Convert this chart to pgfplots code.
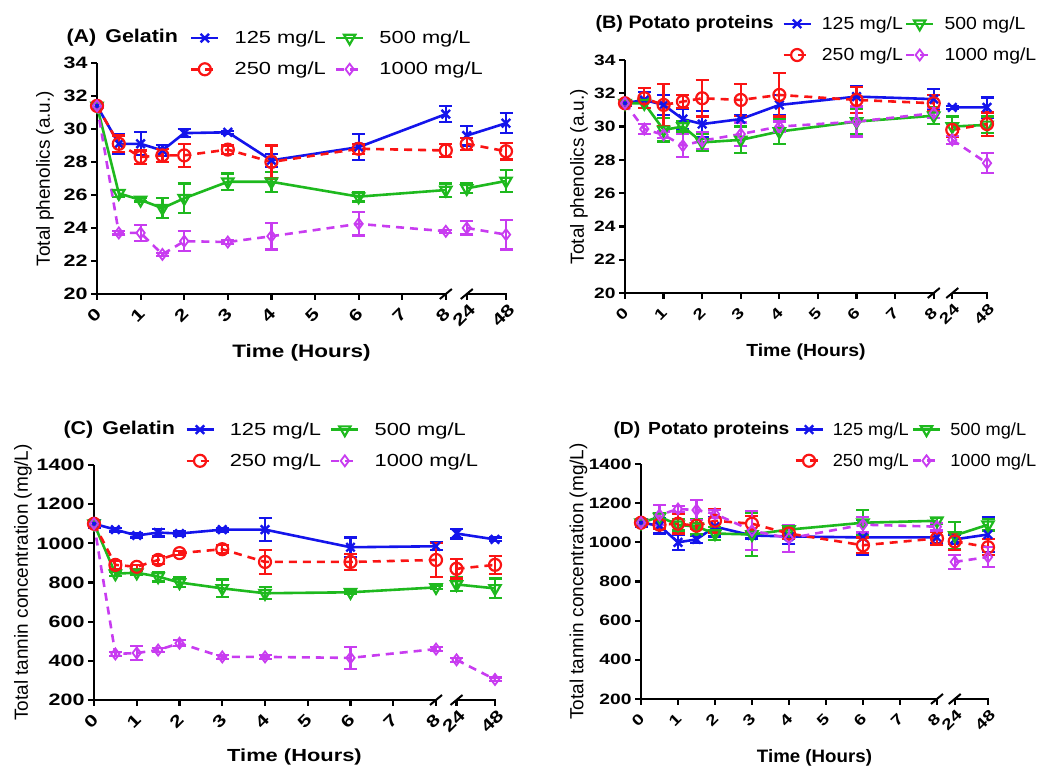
\documentclass[border=0pt]{standalone}
\usepackage{pgfplots}
\pgfplotsset{compat=1.18}
\usepackage{pgfplotstable}
\usepackage{fontspec}
\setmainfont{Liberation Sans}
\newfontfamily\wideL{Liberation Sans}[FakeStretch=1.25]
\newfontfamily\wideB{Liberation Sans}[FakeStretch=1.11]
\newfontfamily\wideD{Liberation Sans}[FakeStretch=1.04]
\newfontfamily\titL{Liberation Sans}[FakeStretch=1.16]
\newfontfamily\titR{Liberation Sans}[FakeStretch=1.1]
\newfontfamily\tickL{Liberation Sans}[FakeStretch=1.3]
\newfontfamily\tickR{Liberation Sans}[FakeStretch=1.28]
\definecolor{cB}{RGB}{20,20,235}
\definecolor{cR}{RGB}{250,20,20}
\definecolor{cG}{RGB}{30,185,30}
\definecolor{cP}{RGB}{200,60,240}

% x positions: 0..8 as hours, 8.48 = 24 h, 9.38 = 48 h (broken axis)
\pgfplotstableread{
x b be g ge r re p pe
0 31.4 0.15 31.4 0.1 31.4 0.1 31.4 0.1
0.5 29.1 0.6 26.1 0.2 29.1 0.5 23.7 0.1
1 29.1 0.7 25.7 0.1 28.3 0.4 23.7 0.5
1.5 28.7 0.35 25.2 0.6 28.4 0.4 22.4 0.1
2 29.75 0.25 25.8 0.9 28.4 0.7 23.2 0.6
3 29.8 0.1 26.8 0.5 28.75 0.25 23.15 0.1
4 28.1 0.4 26.8 0.6 28.0 1.0 23.5 0.8
6 28.9 0.8 25.9 0.3 28.8 0.3 24.25 0.7
8 30.9 0.5 26.3 0.4 28.7 0.4 23.8 0.1
8.24 nan 0 nan 0 nan 0 nan 0
8.48 29.6 0.6 26.4 0.3 29.1 0.35 24.0 0.4
9.38 30.35 0.6 26.85 0.65 28.65 0.5 23.6 0.9
}\dataA
\pgfplotstableread{
x b be g ge r re p pe
0 31.4 0.15 31.4 0.1 31.4 0.1 31.4 0.1
0.5 31.6 0.5 31.4 0.3 31.7 0.6 29.85 0.3
1 31.3 0.6 29.8 0.7 31.3 1.25 29.5 0.2
1.5 30.45 0.6 30.0 0.3 31.5 0.4 28.85 0.7
2 30.15 0.8 29.05 0.5 31.7 1.1 29.15 0.5
3 30.45 0.25 29.2 0.8 31.6 0.95 29.55 0.7
4 31.3 0.6 29.7 0.75 31.9 1.3 30.0 0.3
6 31.8 0.65 30.3 0.75 31.6 0.8 30.3 0.9
8 31.65 0.6 30.65 0.5 31.4 0.5 30.8 0.3
8.24 nan 0 nan 0 nan 0 nan 0
8.48 31.15 0.1 30.0 0.6 29.8 0.4 29.2 0.25
9.38 31.15 0.6 30.1 0.5 30.15 0.7 27.8 0.6
}\dataB
\pgfplotstableread{
x b be g ge r re p pe
0 1100 20 1100 10 1100 10 1100 10
0.5 1070 10 845 10 890 20 435 10
1 1040 10 850 10 880 10 440 35
1.5 1055 20 830 25 915 20 455 10
2 1050 10 800 25 950 10 490 15
3 1070 10 770 45 970 20 420 10
4 1070 60 745 30 905 60 420 10
6 980 50 750 10 905 40 415 55
8 985 20 775 10 915 85 460 10
8.24 nan 0 nan 0 nan 0 nan 0
8.48 1050 25 790 35 870 50 405 10
9.38 1020 10 770 50 890 45 305 10
}\dataC
\pgfplotstableread{
x b be g ge r re p pe
0 1100 20 1100 10 1100 10 1100 10
0.5 1085 40 1130 20 1090 20 1140 50
1 1000 40 1090 30 1095 50 1170 15
1.5 1015 20 1080 40 1085 15 1165 50
2 1080 50 1045 35 1110 60 1145 20
3 1035 15 1040 110 1095 40 1060 100
4 1030 40 1065 20 1045 30 1020 70
6 1025 90 1100 65 985 40 1090 40
8 1025 30 1110 15 1020 35 1080 20
8.24 nan 0 nan 0 nan 0 nan 0
8.48 1015 25 1035 70 1005 45 900 35
9.38 1040 90 1090 30 975 40 925 50
}\dataD

\pgfplotsset{
  every error bar/.append style={line width=2.2pt, solid},
  s125/.style={cB, line width=2.6pt, mark=x, mark size=6pt, mark options={solid, line width=2.4pt}},
  s500/.style={cG, line width=2.6pt, mark=triangle, mark size=6.5pt, mark options={solid, rotate=180, fill=none, line width=2.2pt}},
  s250/.style={cR, line width=2.6pt, dash pattern=on 8pt off 6pt, mark=o, mark size=6pt, mark options={solid, fill=none, line width=2.2pt}},
  s1000/.style={cP, line width=2.6pt, dash pattern=on 8pt off 6pt, mark=diamond, mark size=5.5pt, mark options={solid, fill=none, line width=1.8pt}},
  eb/.style={error bars/.cd, y dir=both, y explicit, error bar style={line width=2.2pt, solid}, error mark options={rotate=90, line width=2.2pt, mark size=6.5pt, solid}},
  panel/.style={
    scale only axis, clip=false,
    xmin=0, xmax=9.38,
    axis x line*=bottom, axis y line*=left,
    x axis line style={draw=none},
    y axis line style={line width=2.6pt, -},
    tick align=outside,
    major tick length=6pt,
    tick style={black, line width=2.2pt},
    xtick={0,1,2,3,4,5,6,7,8,8.48,9.38},
    xticklabels={0,1,2,3,4,5,6,7,8,24,48},
    xticklabel style={yshift=-15pt, xshift=-3pt, rotate=45, anchor=center},
    /pgf/number format/assume math mode=true,
    /pgf/number format/1000 sep={},
    unbounded coords=jump,
    legend columns=2,
    legend cell align=left,
    legend image code/.code={\draw[mark repeat=2, mark phase=2, #1] plot coordinates {(0pt,0pt) (13.5pt,0pt) (27pt,0pt)};},
    ylabel style={font=\fontsize{19}{21}\selectfont, anchor=center},
    xlabel style={anchor=center},
  },
  leftp/.style={
    ticklabel style={font=\tickL\bfseries\fontsize{16.5}{18}\selectfont},
    legend style={draw=none, fill=none, inner sep=0pt, row sep=13pt, font=\wideL\fontsize{17.5}{20}\selectfont, anchor=north west,
      /tikz/every odd column/.append style={column sep=13pt},
      /tikz/every even column/.append style={column sep=7pt}},
  },
  rightB/.style={
    ticklabel style={font=\tickR\bfseries\fontsize{15}{18}\selectfont},
    xlabel style={font=\wideB\bfseries\fontsize{17.5}{20}\selectfont},
    legend style={draw=none, fill=none, inner sep=0pt, row sep=13pt, font=\wideB\fontsize{17.5}{20}\selectfont, anchor=north west,
      /tikz/every odd column/.append style={column sep=8pt},
      /tikz/every even column/.append style={column sep=0pt}},
  },
  rightD/.style={
    ticklabel style={font=\tickR\bfseries\fontsize{15}{18}\selectfont},
    xlabel style={font=\wideD\bfseries\fontsize{18}{20}\selectfont},
    legend style={draw=none, fill=none, inner sep=0pt, row sep=13pt, font=\wideD\fontsize{17.5}{20}\selectfont, anchor=north west,
      /tikz/every odd column/.append style={column sep=7pt},
      /tikz/every even column/.append style={column sep=1pt}},
  },
}
\newcommand{\panelplots}[2]{%
  \addplot[s125, eb] table[x=x, y=b, y error=be] {#1};
  \addplot[s500, eb] table[x=x, y=g, y error=ge] {#1};
  \addplot[s250, eb] table[x=x, y=r, y error=re] {#1};
  \addplot[s1000, eb] table[x=x, y=p, y error=pe] {#1};
  \legend{125 mg/L, 500 mg/L, 250 mg/L, 1000 mg/L}
  \draw[black, line width=2.6pt] ([xshift=-1.3pt]axis cs:0,#2) -- (axis cs:8,#2);
  \draw[black, line width=2.6pt] (axis cs:8.48,#2) -- ([xshift=1.3pt]axis cs:9.38,#2);
  \draw[black, line width=2pt] ([shift={(-6pt,-5pt)}]axis cs:8,#2) -- ++(12pt,10pt);
  \draw[black, line width=2pt] ([shift={(-6pt,-5pt)}]axis cs:8.48,#2) -- ++(12pt,10pt);
}

\begin{document}
\begin{tikzpicture}
\useasboundingbox (0,0) rectangle (1052pt,767pt);

% (A)
\begin{axis}[panel, leftp, at={(97pt,473pt)}, anchor=south west, width=409pt, height=231pt,
  ymin=20, ymax=34, ytick={20,22,...,34},
  ylabel={Total phenolics (a.u.)}, ylabel style={at={(axis description cs:-0.127,0.5)}},
  xlabel={Time (Hours)}, xlabel style={font=\wideL\bfseries\fontsize{18}{20}\selectfont, at={(axis description cs:0.5,-0.255)}},
  legend style={at={(axis description cs:0.227,1.148)}}]
  \panelplots{\dataA}{20}
\end{axis}
\node[anchor=west, font=\titL\bfseries\fontsize{18.5}{20}\selectfont] at (63pt,729pt) {(A)\hspace{9pt}Gelatin};

% (B)
\begin{axis}[panel, rightB, at={(625pt,474pt)}, anchor=south west, width=362pt, height=233pt,
  ymin=20, ymax=34, ytick={20,22,...,34},
  ylabel={Total phenolics (a.u.)}, ylabel style={at={(axis description cs:-0.127,0.5)}},
  xlabel={Time (Hours)}, xlabel style={at={(axis description cs:0.5,-0.253)}},
  legend style={at={(axis description cs:0.434,1.195)}}]
  \panelplots{\dataB}{20}
\end{axis}
\node[anchor=west, font=\titR\bfseries\fontsize{18}{20}\selectfont] at (592pt,743pt) {(B) Potato proteins};

% (C)
\begin{axis}[panel, leftp, at={(94pt,67pt)}, anchor=south west, width=401pt, height=235pt,
  ymin=200, ymax=1400, ytick={200,400,...,1400},
  ylabel={Total tannin concentration (mg/L)}, ylabel style={at={(axis description cs:-0.177,0.5)}},
  xlabel={Time (Hours)}, xlabel style={font=\wideL\bfseries\fontsize{17.5}{20}\selectfont, at={(axis description cs:0.5,-0.243)}},
  legend style={at={(axis description cs:0.227,1.19)}}]
  \panelplots{\dataC}{200}
\end{axis}
\node[anchor=west, font=\titL\bfseries\fontsize{18.5}{20}\selectfont] at (60pt,337pt) {(C)\hspace{9pt}Gelatin};

% (D)
\begin{axis}[panel, rightD, at={(641pt,68pt)}, anchor=south west, width=347pt, height=235pt,
  ymin=200, ymax=1400, ytick={200,400,...,1400},
  ylabel={Total tannin concentration (mg/L)}, ylabel style={at={(axis description cs:-0.18,0.5)}},
  xlabel={Time (Hours)}, xlabel style={at={(axis description cs:0.5,-0.251)}},
  legend style={at={(axis description cs:0.441,1.186)}}]
  \panelplots{\dataD}{200}
\end{axis}
\node[anchor=west, font=\titR\bfseries\fontsize{17.5}{20}\selectfont] at (610pt,337pt) {(D)\hspace{8pt}Potato proteins};
\end{tikzpicture}
\end{document}
